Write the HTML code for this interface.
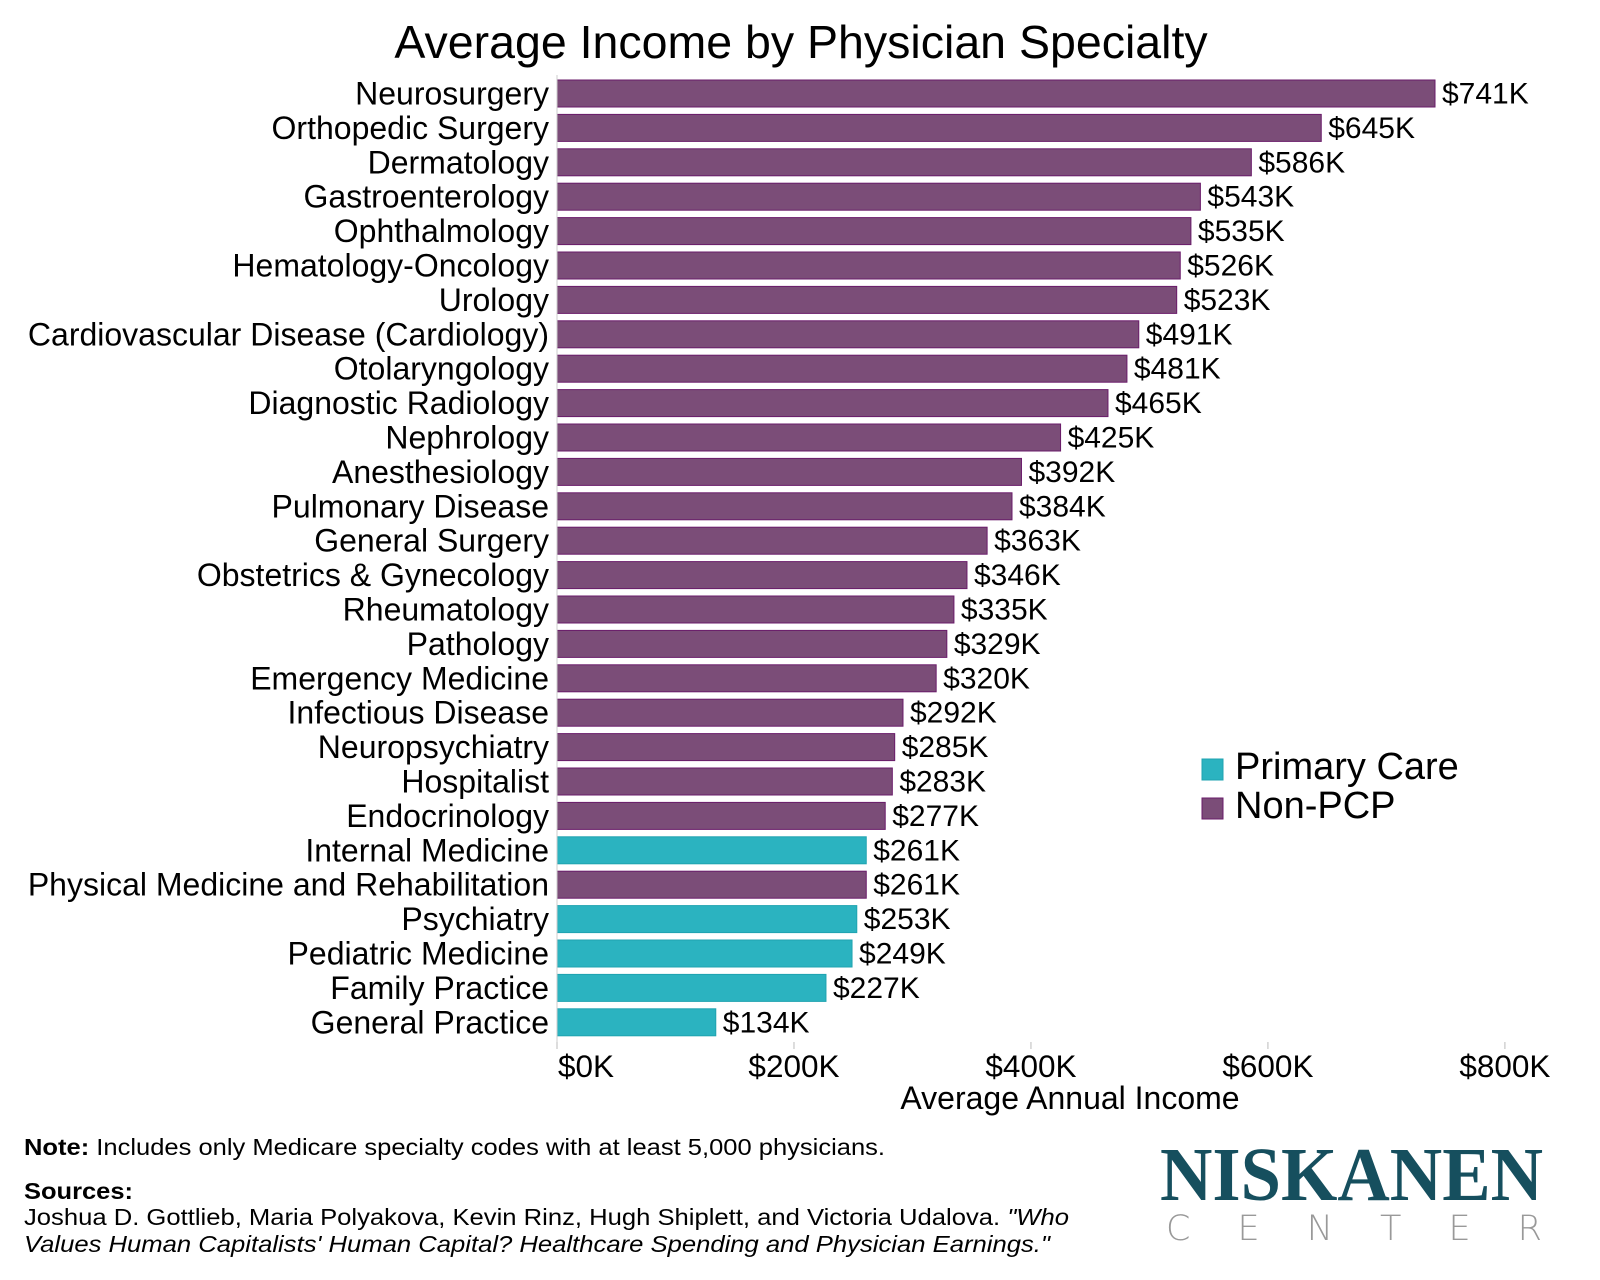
<!DOCTYPE html>
<html><head><meta charset="utf-8"><style>
body{margin:0;background:#fff}
svg{display:block;font-family:"Liberation Sans",sans-serif}
</style></head><body>
<svg id="chart" width="1600" height="1280" viewBox="0 0 1600 1280">
<text x="801" y="58" font-size="46.5" text-anchor="middle">Average Income by Physician Specialty</text>
<g id="bars"></g>
<g id="xaxis"></g>
<text x="1070" y="1109" font-size="32" text-anchor="middle">Average Annual Income</text>
<g>
<g>
<rect x="1202" y="759" width="21" height="21" fill="#2bb3c0" stroke="#1fa3b0"/>
<text x="1235" y="779" font-size="38">Primary Care</text></g>
<g>
<rect x="1202" y="798" width="21" height="21" fill="#7b4d78" stroke="#6a1b6a"/>
<text x="1235" y="818" font-size="38">Non-PCP</text></g>
</g>
<text x="24" y="1155" font-size="23" textLength="861" lengthAdjust="spacingAndGlyphs"><tspan font-weight="bold">Note:</tspan> Includes only Medicare specialty codes with at least 5,000 physicians.</text>
<text x="24" y="1199" font-size="23" font-weight="bold" textLength="109" lengthAdjust="spacingAndGlyphs">Sources:</text>
<text x="24" y="1225" font-size="23" textLength="1045" lengthAdjust="spacingAndGlyphs">Joshua D. Gottlieb, Maria Polyakova, Kevin Rinz, Hugh Shiplett, and Victoria Udalova. <tspan font-style="italic">"Who</tspan></text>
<text x="24" y="1252" font-size="23" font-style="italic" textLength="1026" lengthAdjust="spacingAndGlyphs">Values Human Capitalists' Human Capital? Healthcare Spending and Physician Earnings."</text>
<g>
<text x="1160" y="1200" font-family="'Liberation Serif',serif" font-weight="bold" font-size="76" fill="#164f5e" textLength="383" lengthAdjust="spacingAndGlyphs">NISKANEN</text>
<text x="1166" y="1240" font-family="'DejaVu Sans',sans-serif" font-weight="200" font-size="35" fill="#999" textLength="376" lengthAdjust="spacing">CENTER</text>
</g>
</svg>
<script>
const categories=["Neurosurgery","Orthopedic Surgery","Dermatology","Gastroenterology","Ophthalmology","Hematology-Oncology","Urology","Cardiovascular Disease (Cardiology)","Otolaryngology","Diagnostic Radiology","Nephrology","Anesthesiology","Pulmonary Disease","General Surgery","Obstetrics & Gynecology","Rheumatology","Pathology","Emergency Medicine","Infectious Disease","Neuropsychiatry","Hospitalist","Endocrinology","Internal Medicine","Physical Medicine and Rehabilitation","Psychiatry","Pediatric Medicine","Family Practice","General Practice"];
const values=[741,645,586,543,535,526,523,491,481,465,425,392,384,363,346,335,329,320,292,285,283,277,261,261,253,249,227,134];
const primaryCare=[0,0,0,0,0,0,0,0,0,0,0,0,0,0,0,0,0,0,0,0,0,0,1,0,1,1,1,1];
const ticks=[0,200,400,600,800];
const tickLabels=["$0K","$200K","$400K","$600K","$800K"];
const NS="http://www.w3.org/2000/svg";
const x0=557,kx=(1435-557)/741;
const xs=v=>x0+v*kx;
const y0=80,step=34.4,bh=27;
const ys=i=>y0+i*step;
function mk(t,a){const e=document.createElementNS(NS,t);for(const k in a)e.setAttribute(k,a[k]);return e;}
const bars=document.getElementById('bars');
categories.forEach((c,i)=>{
  const g=mk('g',{});
  
  
  const r=mk('rect',{x:x0,y:ys(i),width:xs(values[i])-x0,height:bh,fill:primaryCare[i]?'#2bb3c0':'#7b4d78',stroke:primaryCare[i]?'#1fa3b0':'#6a1b6a','stroke-width':1});
  
  
  const l=mk('text',{x:549,y:ys(i)+bh/2+11,'font-size':32,'text-anchor':'end'});
  
  
  l.textContent=c;
  const v=mk('text',{x:xs(values[i])+7,y:ys(i)+bh/2+10,'font-size':30});
  
  
  v.textContent='$'+values[i]+'K';
  g.appendChild(r);g.appendChild(l);g.appendChild(v);bars.appendChild(g);
});
const ax=document.getElementById('xaxis');
const al=mk('line',{x1:x0,x2:x0,y1:y0-5,y2:1048,stroke:'#ccc','stroke-width':1});


ax.appendChild(al);
ticks.forEach((t,i)=>{
  const tl=mk('line',{x1:xs(t),x2:xs(t),y1:1042,y2:1049,stroke:'#bbb','stroke-width':1});
  
  
  const tx=mk('text',{x:i===0?x0+1:xs(t),y:1077,'font-size':31.5,'text-anchor':i===0?'start':'middle'});
  
  
  tx.textContent=tickLabels[i];
  ax.appendChild(tl);ax.appendChild(tx);
});
</script>
</body></html>
